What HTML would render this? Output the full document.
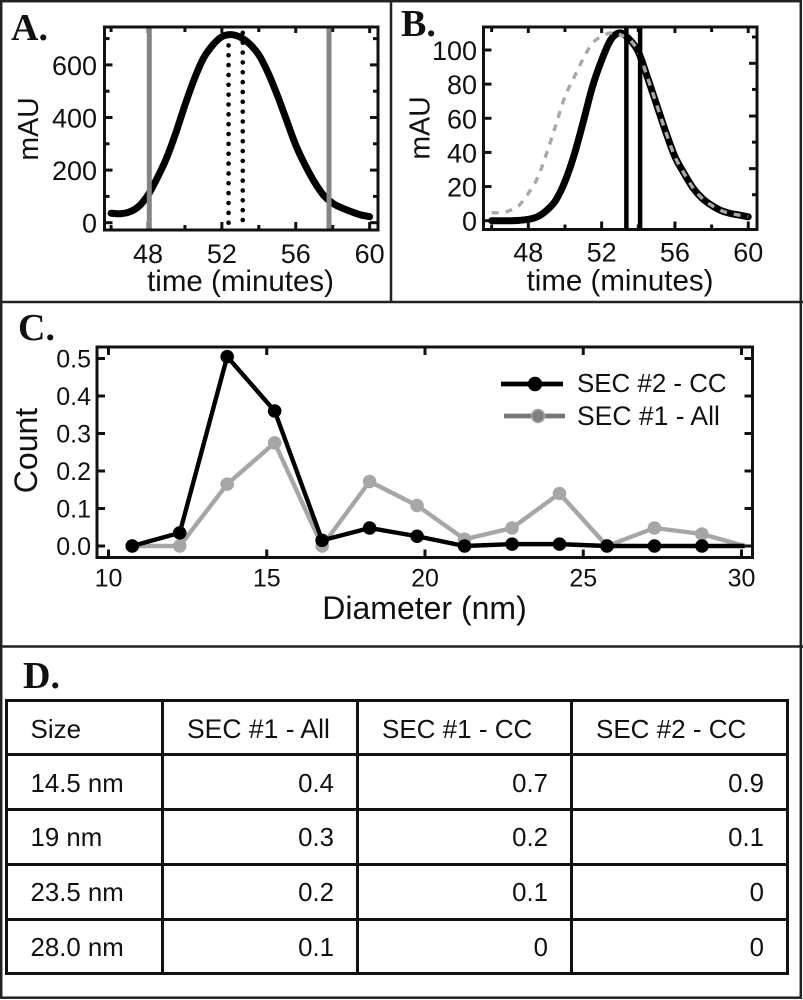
<!DOCTYPE html>
<html lang="en">
<head>
<meta charset="utf-8">
<title>SEC chromatograms and size distribution</title>
<style>
html,body{margin:0;padding:0;background:#fff;}
#page{position:relative;width:803px;height:1000px;overflow:hidden;background:#fff;font-family:"Liberation Sans",Arial,sans-serif;color:#111;filter:blur(0.35px);}
#figure{position:absolute;left:0;top:0;}
#figure text{font-family:"Liberation Sans",Arial,sans-serif;fill:#111;}
#figure text.panel{font-family:"Liberation Serif",serif;font-weight:bold;font-size:38px;}
#size-table{position:absolute;left:4.5px;top:698.5px;width:781.5px;border-collapse:collapse;table-layout:fixed;font-size:25.8px;}
#size-table tr{height:54.8px;}
#size-table td{border:3px solid #111;padding:4px 22px 0 23px;text-align:right;white-space:nowrap;}
#size-table td:first-child{text-align:left;}
#size-table tr:first-child td{text-align:left;font-size:26px;padding:4px 0 0 23px;}
#size-table tr:first-child td.wide{font-size:26.5px;}
</style>
</head>
<body>
<div id="page">
<svg id="figure" width="803" height="1000" viewBox="0 0 803 1000" xmlns="http://www.w3.org/2000/svg">
  <g fill="none" stroke="#222" stroke-width="2.5">
    <rect x="1.2" y="1.2" width="799.6" height="996.5"/>
    <line x1="391" y1="0" x2="391" y2="302"/>
    <line x1="0" y1="302" x2="803" y2="302"/>
    <line x1="0" y1="646.5" x2="803" y2="646.5"/>
  </g>
  <text class="panel" x="11" y="40">A.</text>
  <text class="panel" x="401" y="36">B.</text>
  <text class="panel" x="18" y="340">C.</text>
  <text class="panel" x="23" y="688">D.</text>
  <g id="chart-a"></g>
  <g id="chart-b"></g>
  <g id="chart-c"></g>
</svg>
<table id="size-table">
  <colgroup><col style="width:156.5px"><col style="width:195px"><col style="width:214px"><col style="width:216px"></colgroup>
  <tr><td>Size</td><td class="wide">SEC #1 - All</td><td>SEC #1 - CC</td><td>SEC #2 - CC</td></tr>
  <tr><td>14.5 nm</td><td>0.4</td><td>0.7</td><td>0.9</td></tr>
  <tr><td>19 nm</td><td>0.3</td><td>0.2</td><td>0.1</td></tr>
  <tr><td>23.5 nm</td><td>0.2</td><td>0.1</td><td>0</td></tr>
  <tr><td>28.0 nm</td><td>0.1</td><td>0</td><td>0</td></tr>
</table>
</div>
<script>
// ---- Chart data ----
const timeMinutes = [46,46.5,47,47.5,48,48.5,49,49.5,50,50.5,51,51.5,52,52.5,53,53.5,54,54.5,55,55.5,56,56.5,57,57.5,58,58.5,59,59.5,60];
const absorbanceA = [36,34,41,62,105,170,245,340,447,545,625,675,707,715,705,680,638,570,485,390,295,220,156,105,74,56,42,30,23];
const absorbanceB = [0,0,0,0.2,0.8,2.3,6,12,23,38.5,58,78.5,94,106,110,106.4,99,84,68,52,37.5,27.7,19,13,9,6,4.3,3.3,2.3];
const absorbanceBGray = [4.7,4.7,6,9,16,25,39.5,56,72.7,84,95,104,108,110,109,106.4,99,84,68,52,37.5,27.7,19,13,9,6,4.3,3.3,2.3];
const timeTicks = [48,52,56,60];
const timeMinorTicks = [46,50,54,58];
const mauTicksA = [0,200,400,600];
const mauMinorTicksA = [100,300,500,700];
const mauTicksB = [0,20,40,60,80,100];
const mauRightTicksB = [30.5,61.3,92.2];
const mauRightMinorTicksB = [15.2,46,76.9,107.6];
const fractionLinesA = [48.07,57.8];
const dottedLinesA = [52.36,53.13];
const fractionLinesB = [53.35,54.1];
const diameterNm = [10.75,12.25,13.75,15.25,16.75,18.25,19.75,21.25,22.75,24.25,25.75,27.25,28.75,30.1];
const countSec2CC = [0,0.035,0.505,0.36,0.015,0.048,0.026,0,0.005,0.005,0,0,0,0];
const countSec1All = [0,0,0.165,0.275,0,0.172,0.108,0.018,0.048,0.14,0,0.048,0.032,0];
const diameterTicks = [10,15,20,25,30];
const countTicks = [0,0.1,0.2,0.3,0.4,0.5];
const legendLabels = ["SEC #2 - CC","SEC #1 - All"];

const NS = "http://www.w3.org/2000/svg";
function mk(parent, tag, attrs){
  const el = document.createElementNS(NS, tag);
  for (const k in attrs) el.setAttribute(k, attrs[k]);
  parent.appendChild(el);
  return el;
}
function addLine(parent, name, x1, y1, x2, y2, w, color){
  const el = mk(parent, "line", {x1:x1, y1:y1, x2:x2, y2:y2, "stroke-width":w, stroke:color});
  
  
  return el;
}
function addText(parent, name, str, x, y, size, anchor, rotate){
  const el = mk(parent, "text", {x:x, y:y, "font-size":size, "text-anchor":anchor});
  if (rotate) el.setAttribute("transform", "rotate(-90 " + x + " " + y + ")");
  el.textContent = str;
  
  
  return el;
}
function addFrame(parent, l, t, r, b){
  const el = mk(parent, "rect", {x:l, y:t, width:r-l, height:b-t, fill:"none", stroke:"#111", "stroke-width":3});
  
  
}
function smoothPath(xs, ys){
  let d = "M" + xs[0].toFixed(2) + " " + ys[0].toFixed(2);
  for (let i = 0; i < xs.length - 1; i++){
    const i0 = Math.max(i - 1, 0), i3 = Math.min(i + 2, xs.length - 1);
    const c1x = xs[i] + (xs[i+1] - xs[i0]) / 6, c1y = ys[i] + (ys[i+1] - ys[i0]) / 6;
    const c2x = xs[i+1] - (xs[i3] - xs[i]) / 6, c2y = ys[i+1] - (ys[i3] - ys[i]) / 6;
    d += "C" + c1x.toFixed(2) + " " + c1y.toFixed(2) + " " + c2x.toFixed(2) + " " + c2y.toFixed(2) + " " + xs[i+1].toFixed(2) + " " + ys[i+1].toFixed(2);
  }
  return d;
}
function addCurve(parent, name, xVals, yVals, sx, sy, w, color, dash){
  const el = mk(parent, "path", {d:smoothPath(xVals.map(sx), yVals.map(sy)), fill:"none", stroke:color, "stroke-width":w, "stroke-linecap":dash ? "butt" : "round", "stroke-linejoin":"round"});
  if (dash) el.setAttribute("stroke-dasharray", dash);
  
  
}

// ---- Panel A ----
(function(){
  const g = document.getElementById("chart-a");
  const L = 104.5, R = 378, T = 27, B = 230;
  const sx = t => 148 + (t - 48) * 18.47;
  const sy = v => 222.7 - v * 0.263;
  timeTicks.forEach(t => {
    addLine(g, "x-tick", sx(t), B, sx(t), B - 8, 3, "#111");
    addLine(g, "x-tick-top", sx(t), T, sx(t), T + 6, 3, "#111");
    addText(g, "x-tick-label", String(t), sx(t), 263, 27, "middle");
  });
  timeMinorTicks.forEach(t => {
    addLine(g, "x-minor-tick", sx(t), B, sx(t), B - 5, 3, "#111");
    addLine(g, "x-minor-tick-top", sx(t), T, sx(t), T + 5, 3, "#111");
  });
  mauTicksA.forEach(v => {
    addLine(g, "y-tick", L, sy(v), L + 8, sy(v), 3, "#111");
    addLine(g, "y-tick-right", R, sy(v), R - 8, sy(v), 3, "#111");
    addText(g, "y-tick-label", String(v), 97, sy(v) + 10, 27, "end");
  });
  mauMinorTicksA.forEach(v => {
    addLine(g, "y-minor-tick", L, sy(v), L + 5, sy(v), 3, "#111");
    addLine(g, "y-minor-tick-right", R, sy(v), R - 5, sy(v), 3, "#111");
  });
  addCurve(g, "chromatogram-a-curve", timeMinutes, absorbanceA, sx, sy, 7, "#000");
  fractionLinesA.forEach(t => addLine(g, "fraction-boundary-line", sx(t), T, sx(t), B, 5, "#858585"));
  dottedLinesA.forEach((t, i) => {
    const el = addLine(g, "center-cut-dotted-line", sx(t), i ? 220 : 222.7, sx(t), i ? 24 : 26, 4.6, "#000");
    el.setAttribute("stroke-dasharray", "0 9.85");
    el.setAttribute("stroke-linecap", "round");
  });
  addFrame(g, L, T, R, B);
  addText(g, "x-axis-title", "time (minutes)", 240.5, 291, 29.5, "middle");
  addText(g, "y-axis-title", "mAU", 38, 129, 28.5, "middle", true);
})();

// ---- Panel B ----
(function(){
  const g = document.getElementById("chart-b");
  const L = 483.5, R = 757, T = 27, B = 229.5;
  const sx = t => 528.3 + (t - 48) * 18.33;
  const sy = v => 220.7 - v * 1.707;
  timeTicks.forEach(t => {
    addLine(g, "x-tick", sx(t), B, sx(t), B - 8, 3, "#111");
    addLine(g, "x-tick-top", sx(t), T, sx(t), T + 6, 3, "#111");
    addText(g, "x-tick-label", String(t), sx(t), 261.5, 27, "middle");
  });
  timeMinorTicks.forEach(t => {
    addLine(g, "x-minor-tick", sx(t), B, sx(t), B - 5, 3, "#111");
    addLine(g, "x-minor-tick-top", sx(t), T, sx(t), T + 5, 3, "#111");
  });
  mauTicksB.forEach(v => {
    addLine(g, "y-tick", L, sy(v), L + 8, sy(v), 3, "#111");
    addText(g, "y-tick-label", String(v), 477, sy(v) + 10, 27, "end");
  });
  mauRightTicksB.forEach(v => addLine(g, "y-tick-right", R, sy(v), R - 8, sy(v), 3, "#111"));
  mauRightMinorTicksB.forEach(v => addLine(g, "y-minor-tick-right", R, sy(v), R - 5, sy(v), 3, "#111"));
  addCurve(g, "chromatogram-b-curve", timeMinutes, absorbanceB, sx, sy, 7, "#000");
  addCurve(g, "reference-dashed-curve", timeMinutes, absorbanceBGray, sx, sy, 3.4, "#a8a8a8", "7 7");
  fractionLinesB.forEach(t => addLine(g, "fraction-boundary-line", sx(t), T, sx(t), B, 4.5, "#000"));
  addFrame(g, L, T, R, B);
  addText(g, "x-axis-title", "time (minutes)", 620, 290.5, 29.5, "middle");
  addText(g, "y-axis-title", "mAU", 429.5, 128, 28.5, "middle", true);
})();

// ---- Panel C ----
(function(){
  const g = document.getElementById("chart-c");
  const L = 97, R = 752.5, T = 347, B = 557.5;
  const sx = d => 108.5 + (d - 10) * 31.65;
  const sy = v => 546 - v * 375;
  diameterTicks.forEach(d => {
    addLine(g, "x-tick", sx(d), B, sx(d), B - 8, 3, "#111");
    addLine(g, "x-tick-top", sx(d), T, sx(d), T + 8, 3, "#111");
    addText(g, "x-tick-label", String(d), sx(d), 586.5, 25, "middle");
  });
  countTicks.forEach(v => {
    addLine(g, "y-tick", L, sy(v), L + 8, sy(v), 3, "#111");
    addLine(g, "y-tick-right", R, sy(v), R - 8, sy(v), 3, "#111");
    addText(g, "y-tick-label", v.toFixed(1), 91, sy(v) + 9, 25, "end");
  });
  function series(name, values, color, markerColor){
    const pts = diameterNm.map((d, i) => sx(d).toFixed(2) + "," + sy(values[i]).toFixed(2)).join(" ");
    const poly = mk(g, "polyline", {points:pts, fill:"none", stroke:color, "stroke-width":4.4, "stroke-linejoin":"miter"});
    
    
    diameterNm.slice(0, -1).forEach((d, i) => {
      const c = mk(g, "circle", {cx:sx(d), cy:sy(values[i]), r:6.8, fill:markerColor});
      
      
    });
  }
  series("sec1-all", countSec1All, "#a6a6a6", "#a6a6a6");
  series("sec2-cc", countSec2CC, "#000", "#000");
  addFrame(g, L, T, R, B);
  addText(g, "x-axis-title", "Diameter (nm)", 424.5, 619, 32, "middle");
  addText(g, "y-axis-title", "Count", 37, 450.5, 32, "middle", true);

  // legend
  addLine(g, "legend-line-sec2-cc", 501, 384, 563, 384, 4.8, "#000");
  const m1 = mk(g, "circle", {cx:535, cy:384, r:7.2, fill:"#000"});
  
  
  addText(g, "legend-label-sec2-cc", legendLabels[0], 577, 392, 25.9, "start");
  addLine(g, "legend-line-sec1-all", 504, 416, 565, 416, 4.8, "#777");
  const m2 = mk(g, "circle", {cx:538, cy:416, r:6.4, fill:"#808080", stroke:"#a6a6a6", "stroke-width":1.6});
  
  
  addText(g, "legend-label-sec1-all", legendLabels[1], 577, 425, 26.5, "start");
})();
</script>
</body>
</html>
